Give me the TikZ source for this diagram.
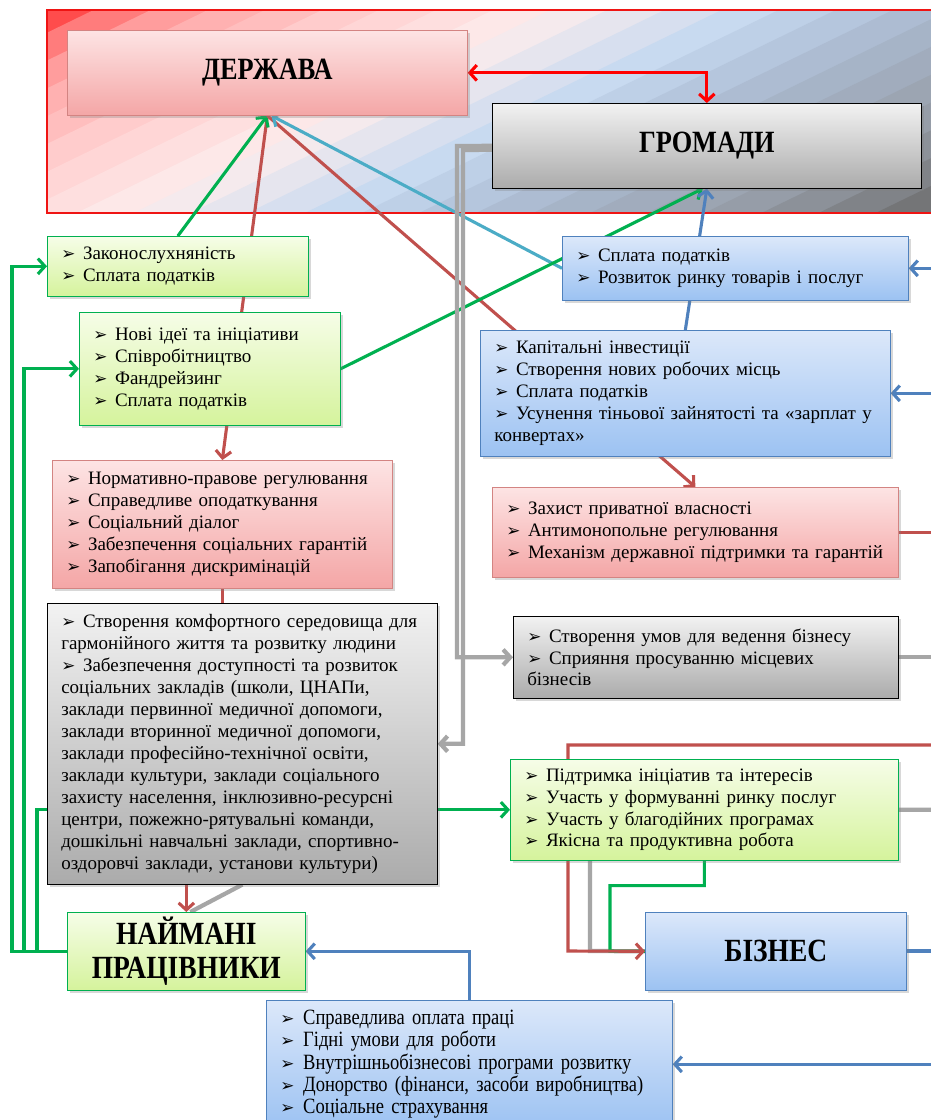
\documentclass[tikz,border=0pt]{standalone}
\usepackage{fontspec}
\setmainfont{Liberation Serif}
\newfontfamily\symfont{DejaVu Sans}
\newfontfamily\headfont{Liberation Serif}[FakeStretch=0.85]
\newfontfamily\narrowfont{Liberation Serif}[FakeStretch=0.85]
\usetikzlibrary{arrows.meta,shadows}

\definecolor{lnred}{HTML}{C0504D}
\definecolor{lngreen}{HTML}{00B050}
\definecolor{lnblue}{HTML}{4F81BD}
\definecolor{lnteal}{HTML}{4BACC6}
\definecolor{lngrey}{HTML}{A6A6A6}
\definecolor{pinktop}{HTML}{FDE4E4}
\definecolor{pinkbot}{HTML}{F4A6A6}
\definecolor{greentop}{HTML}{F6FDE8}
\definecolor{greenbot}{HTML}{D5F39C}
\definecolor{bluetop}{HTML}{DCE8FA}
\definecolor{bluebot}{HTML}{9CC2F2}
\definecolor{greytop}{HTML}{F2F2F2}
\definecolor{greybot}{HTML}{ABABAB}
\definecolor{skya}{HTML}{FF3A3A}
\definecolor{skyb}{HTML}{FF7070}
\definecolor{skyc}{HTML}{FFA8A8}
\definecolor{skyd}{HTML}{FFD0D0}
\definecolor{skye}{HTML}{FDEDED}
\definecolor{skyf}{HTML}{C6D9F0}
\definecolor{skyg}{HTML}{AAB9CF}
\definecolor{skyh}{HTML}{959BA5}
\definecolor{skyi}{HTML}{6E6E6E}

\pgfdeclarelayer{back}
\pgfdeclarelayer{mid}
\pgfsetlayers{back,mid,main}

\newcommand{\listfont}{\fontsize{13.5}{15.6}\selectfont}
\newcommand{\bl}{{\symfont\fontsize{12}{10}\selectfont ➢}\hspace{0.4em}}

\begin{document}
\begin{tikzpicture}[x=0.025cm,y=-0.025cm,
  box/.style={anchor=north west,align=left,inner xsep=0.35cm,font=\listfont,
    drop shadow={shadow xshift=2pt,shadow yshift=-2pt,opacity=0.3}},
  pinkbox/.style={box,draw=lnred!70,top color=pinktop,bottom color=pinkbot},
  greenbox/.style={box,draw=lngreen,top color=greentop,bottom color=greenbot},
  bluebox/.style={box,draw=lnblue,top color=bluetop,bottom color=bluebot},
  greybox/.style={box,draw=black,top color=greytop,bottom color=greybot},
  headline/.style={align=center,font=\headfont\bfseries\fontsize{23}{24}\selectfont},
  wire/.style={line width=2.2pt},
  thick wire/.style={line width=3pt},
  headed/.style={-{Straight Barb[length=5pt,width=11pt]}},
  twoheaded/.style={{Straight Barb[length=5pt,width=11pt]}-{Straight Barb[length=5pt,width=11pt]}}]
\useasboundingbox (0,0) rectangle (930,1120);

\node[pinkbox,headline,minimum width=10cm,minimum height=2.125cm,font=\headfont\bfseries\fontsize{22}{24}\selectfont] (derzh) at (67,30) {ДЕРЖАВА};
\node[greybox,headline,minimum width=10.725cm,minimum height=2.125cm,font=\headfont\bfseries\fontsize{22}{24}\selectfont] (hrom) at (492,103) {ГРОМАДИ};
\node[greenbox,text width=5.825cm,minimum height=1.5cm] (zakon) at (47,236) {\bl Законослухняність\\\bl Сплата податків};
\node[greenbox,text width=5.825cm,minimum height=2.825cm] (novi) at (79,312) {\bl Нові ідеї та ініціативи\\\bl Співробітництво\\\bl Фандрейзинг\\\bl Сплата податків};
\node[pinkbox,text width=7.8cm,minimum height=3.2cm] (norm) at (52,460) {\bl Нормативно-правове регулювання\\\bl Справедливе оподаткування\\\bl Соціальний діалог\\\bl Забезпечення соціальних гарантій\\\bl Запобігання дискримінацій};
\node[greybox,text width=9.05cm,minimum height=7.025cm] (komf) at (47,603) {\bl Створення комфортного середовища для\\гармонійного життя та розвитку людини\\\bl Забезпечення доступності та розвиток\\соціальних закладів (школи, ЦНАПи,\\заклади первинної медичної допомоги,\\заклади вторинної медичної допомоги,\\заклади професійно-технічної освіти,\\заклади культури, заклади соціального\\захисту населення, інклюзивно-ресурсні\\центри, пожежно-рятувальні команди,\\дошкільні навчальні заклади, спортивно-\\оздоровчі заклади, установи культури)};
\node[greenbox,headline,minimum width=5.95cm,minimum height=1.95cm] (naim) at (67,912) {НАЙМАНІ\\ПРАЦІВНИКИ};
\node[bluebox,text width=7.95cm,minimum height=1.6cm] (rynok) at (562,236) {\bl Сплата податків\\\bl Розвиток ринку товарів і послуг};
\node[bluebox,text width=9.55cm,minimum height=3.15cm] (kapital) at (480,330) {\bl Капітальні інвестиції\\\bl Створення нових робочих місць\\\bl Сплата податків\\\bl Усунення тіньової зайнятості та «зарплат у\\конвертах»};
\node[pinkbox,text width=9.45cm,minimum height=2.25cm] (zakhyst) at (492,487) {\bl Захист приватної власності\\\bl Антимонопольне регулювання\\\bl Механізм державної підтримки та гарантій};
\node[greybox,text width=8.925cm,minimum height=2.05cm] (umov) at (513,616) {\bl Створення умов для ведення бізнесу\\\bl Сприяння просуванню місцевих\\бізнесів};
\node[greenbox,text width=9cm,minimum height=2.525cm] (pidtr) at (510,759) {\bl Підтримка ініціатив та інтересів\\\bl Участь у формуванні ринку послуг\\\bl Участь у благодійних програмах\\\bl Якісна та продуктивна робота};
\node[bluebox,headline,minimum width=6.525cm,minimum height=1.95cm] (biz) at (645,912) {БІЗНЕС};
\node[bluebox,text width=9.45cm,minimum height=3.2cm,font=\narrowfont\fontsize{15.5}{15.8}\selectfont] (sprav) at (266,1000) {\bl Справедлива оплата праці\\\bl Гідні умови для роботи\\\bl Внутрішньобізнесові програми розвитку\\\bl Донорство (фінанси, засоби виробництва)\\\bl Соціальне страхування};

\coordinate (edge) at (935,0);
\coordinate (rin) at (935,745);
\coordinate (g1) at (457,146);
\coordinate (g2) at (463,150);
\coordinate (l1) at (12,0);
\coordinate (l2) at (24,0);
\coordinate (l3) at (37,0);

\begin{pgfonlayer}{back}
\fill[white] (0,0) rectangle (930,1120);
\begin{scope}
\clip (47,10) rectangle (935,213);
\foreach \p/\c in {0/skya,25/skyb!33!skya,50/skyc!22!skyb,75/skyc!80!skyb,100/skyd!22!skyc,
    125/skyd!56!skyc,150/skyd!90!skyc,175/skye!22!skyd,200/skye!53!skyd,225/skye!84!skyd,
    250/skyf!14!skye,275/skyf!42!skye,300/skyf!69!skye,325/skyf!97!skye,350/skyg!28!skyf,
    375/skyg!59!skyf,400/skyg!91!skyf,425/skyh!18!skyg,450/skyh!43!skyg,475/skyh!68!skyg,
    500/skyh!93!skyg,525/skyi!22!skyh,550/skyi!53!skyh,575/skyi!84!skyh,600/skyi}
  \fill[fill=\c] ({\p/0.438},0) -- ({(\p+26)/0.438},0) -- ({(\p-180.8)/0.438},230) -- ({(\p-206.8)/0.438},230) -- cycle;
\end{scope}
\draw[line width=2pt,red!75!lnred] (935,10) -- (47,10) -- (47,213) -- (935,213);
\end{pgfonlayer}

\begin{pgfonlayer}{mid}
\draw[wire,lnred,headed] (derzh.south) -- (norm.north);
\draw[wire,lnred] (norm.south) -- (norm.south |- komf.north);
\draw[thick wire,lngrey] (komf.south) -- ([xshift=0.1cm]naim.north);
\draw[wire,lnred,headed] (naim.north |- komf.south) -- (naim.north);
\draw[wire,lngreen,headed] (zakon.north) -- (derzh.south);
\draw[wire,lnred,headed] (derzh.south) -- (zakhyst.north);
\draw[wire,lnteal,headed] (rynok.west) -- ([xshift=0.1cm]derzh.south);
\draw[wire,lngreen,headed] (novi.east) -- ([xshift=-0.1cm]hrom.south);
\draw[wire,lnblue,headed] (kapital.north) -- (hrom.south);
\draw[wire,red,twoheaded] (derzh.east) -| (hrom.north);
\draw[thick wire,lngrey,headed] (hrom.west) -- (g1) -- (g1 |- umov.west) -- (umov.west);
\draw[thick wire,lngrey,headed] ([yshift=-0.1cm]hrom.west) -- (g2) -- (g2 |- komf.east) -- (komf.east);
\draw[wire,lnblue,headed] (rynok.east -| edge) -- (rynok.east);
\draw[wire,lnblue,headed] (kapital.east -| edge) -- (kapital.east);
\draw[wire,lnred] (zakhyst.east) -- (zakhyst.east -| edge);
\draw[thick wire,lngrey] (umov.east) -- (umov.east -| edge);
\draw[thick wire,lngrey] (pidtr.east -| edge) -- (590,809) -- (590,951) -- (biz.west);
\draw[wire,lngreen] (pidtr.south) -- ++(0,25) -| (610,951) -- (biz.west);
\draw[wire,lnred,headed] (rin) -| (568,951) -- (biz.west);
\draw[thick wire,lnblue] (biz.east) -- (biz.east -| edge);
\draw[wire,lnblue,headed] (sprav.east -| edge) -- (sprav.east);
\draw[wire,lnblue,headed] (sprav.north) |- (naim.east);
\draw[wire,lngreen,headed] (naim.west) -| (l1 |- zakon.west) -- (zakon.west);
\draw[wire,lngreen,headed] (naim.west) -| (l2 |- novi.west) -- (novi.west);
\draw[wire,lngreen,headed] (naim.west) -| (l3 |- pidtr.west) -- (pidtr.west);
\end{pgfonlayer}
\end{tikzpicture}
\end{document}
